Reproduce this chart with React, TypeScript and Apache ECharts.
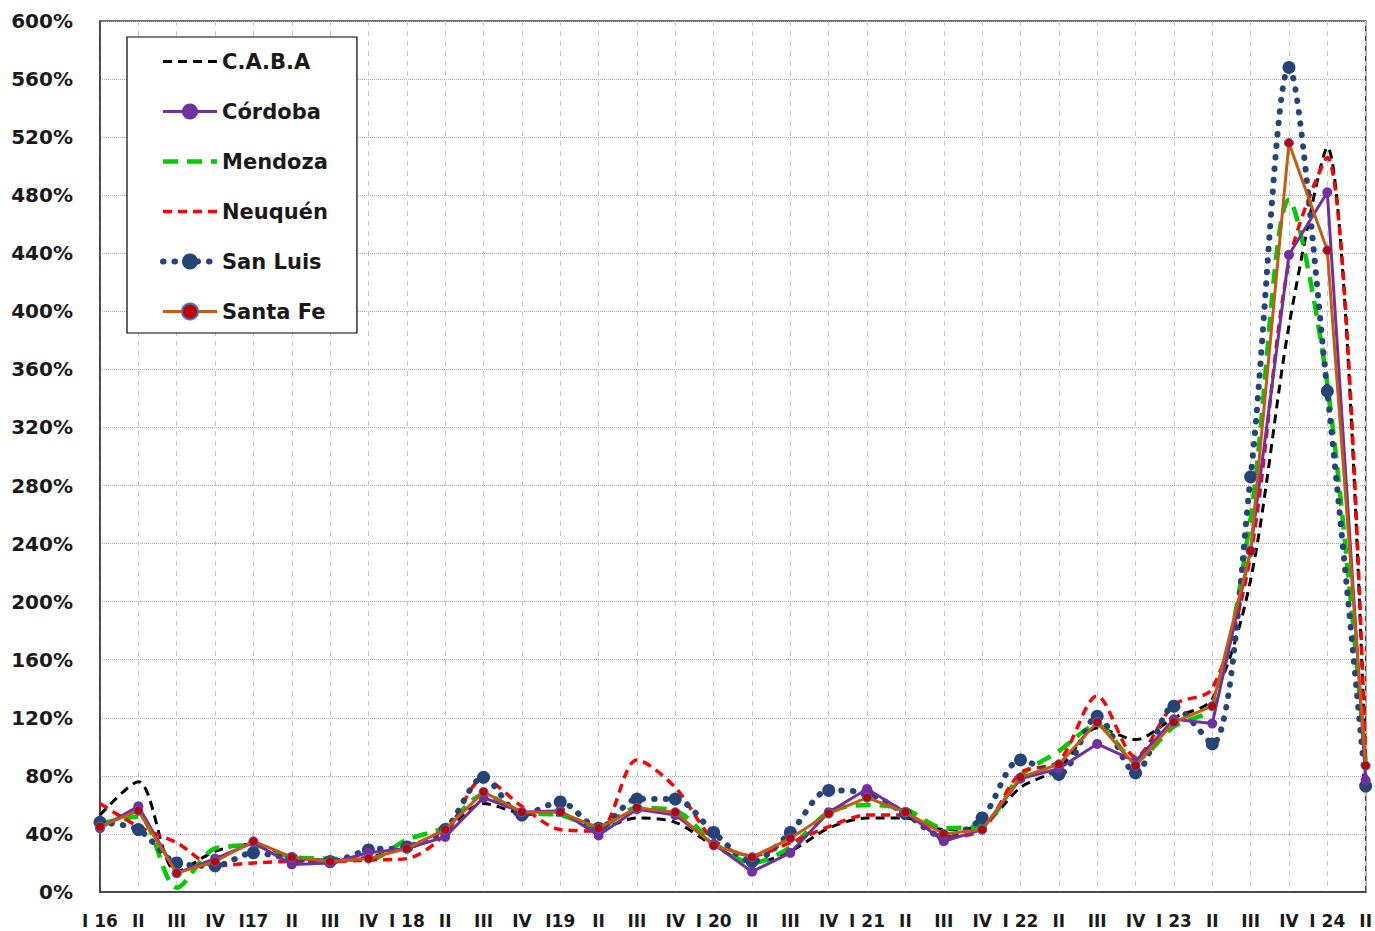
import React, { useEffect, useRef } from "react";
import * as echarts from "echarts";

const categories = [
  "I 16", "II", "III", "IV", "I17", "II", "III", "IV", "I 18", "II", "III", "IV",
  "I19", "II", "III", "IV", "I 20", "II", "III", "IV", "I 21", "II", "III", "IV",
  "I 22", "II", "III", "IV", "I 23", "II", "III", "IV", "I 24", "II",
];

const caba = [53, 76, 14, 28, 33, 24, 22, 24, 31, 43, 61, 54, 53, 44, 51, 48, 32, 20, 28, 44, 51, 51, 43, 46, 72, 85, 113, 105, 120, 133, 215, 390, 513, 85];
const cordoba = [44, 59, 13, 23, 34, 19, 20, 27, 30, 38, 65, 55, 56, 39, 57, 53, 33, 14, 27, 55, 71, 55, 35, 43, 78, 85, 102, 90, 119, 116, 235, 439, 482, 77];
const mendoza = [47, 52, 3, 30, 32, 24, 23, 22, 36, 45, 67, 55, 53, 45, 58, 56, 34, 20, 31, 55, 60, 57, 44, 46, 80, 97, 115, 91, 114, 128, 258, 477, 350, 88];
const neuquen = [61, 45, 34, 18, 20, 21, 21, 22, 23, 40, 78, 59, 43, 42, 91, 72, 36, 25, 34, 45, 53, 53, 38, 43, 82, 90, 135, 93, 129, 140, 232, 434, 506, 88];
const sanLuis = [48, 43, 20, 18, 27, 23, 21, 29, 31, 43, 79, 53, 62, 44, 64, 64, 41, 21, 41, 70, 68, 54, 38, 51, 91, 81, 121, 82, 128, 102, 286, 568, 345, 73];
const santaFe = [45, 56, 13, 21, 35, 24, 21, 23, 30, 43, 69, 55, 55, 44, 58, 55, 32, 24, 37, 54, 65, 55, 40, 43, 79, 88, 117, 87, 117, 128, 235, 516, 442, 87];

const FONT = "DejaVu Sans";
const noMark = (name: string) => ({
  name,
  itemStyle: { color: "rgba(0,0,0,0)", borderColor: "rgba(0,0,0,0)", borderWidth: 0 },
});

export default function App() {
  const ref = useRef<HTMLDivElement>(null);
  useEffect(() => {
    if (!ref.current) return;
    const chart = echarts.init(ref.current, null, { renderer: "svg" });
    chart.setOption({
      animation: false,
      backgroundColor: "#ffffff",
      grid: {
        left: 100,
        right: 8,
        top: 21,
        bottom: 39,
        show: true,
        borderColor: "#3a3a3a",
        borderWidth: 1.5,
      },
      legend: {
        orient: "vertical",
        left: 127,
        top: 37,
        padding: [14, 29, 11, 33],
        itemGap: 29,
        itemWidth: 54,
        itemHeight: 20,
        backgroundColor: "#ffffff",
        borderColor: "#000000",
        borderWidth: 1.2,
        lineStyle: { width: "inherit" },
        textStyle: { fontFamily: FONT, fontWeight: "bold", fontSize: 21, color: "#1a1a1a" },
        data: [
          noMark("C.A.B.A"),
          "Córdoba",
          noMark("Mendoza"),
          noMark("Neuquén"),
          "San Luis",
          "Santa Fe",
        ],
      },
      xAxis: {
        type: "category",
        data: categories,
        boundaryGap: false,
        axisLine: { show: true, lineStyle: { color: "#3a3a3a", width: 1.5 } },
        axisTick: { show: false },
        axisLabel: {
          interval: 0,
          margin: 20,
          fontFamily: FONT,
          fontWeight: "bold",
          fontSize: 17,
          color: "#1a1a1a",
        },
        splitLine: { show: true, lineStyle: { color: "#c4c4c4", type: [5, 5], width: 1 } },
      },
      yAxis: {
        type: "value",
        min: 0,
        max: 600,
        interval: 40,
        axisLine: { show: true, lineStyle: { color: "#3a3a3a", width: 1.5 } },
        axisTick: { show: false },
        axisLabel: {
          formatter: "{value}%",
          margin: 27,
          fontFamily: FONT,
          fontWeight: "bold",
          fontSize: 20,
          color: "#1a1a1a",
        },
        splitLine: { show: true, lineStyle: { color: "#a8a8a8", type: [1, 1], width: 1 } },
      },
      series: [
        {
          name: "C.A.B.A",
          type: "line",
          data: caba,
          smooth: 0.3,
          symbol: "none",
          itemStyle: { color: "#000000" },
          lineStyle: { color: "#000000", width: 3, type: [9, 6] },
          z: 2,
        },
        {
          name: "Córdoba",
          type: "line",
          data: cordoba,
          symbol: "circle",
          symbolSize: 10,
          itemStyle: { color: "#7030A0" },
          lineStyle: { color: "#7030A0", width: 3 },
          z: 3,
        },
        {
          name: "Mendoza",
          type: "line",
          data: mendoza,
          smooth: 0.3,
          symbol: "none",
          itemStyle: { color: "#00CC00" },
          lineStyle: { color: "#00CC00", width: 4.5, type: [15, 9] },
          z: 2,
        },
        {
          name: "Neuquén",
          type: "line",
          data: neuquen,
          smooth: 0.3,
          symbol: "none",
          itemStyle: { color: "#FF0000" },
          lineStyle: { color: "#FF0000", width: 3.5, type: [9, 6] },
          z: 2,
        },
        {
          name: "San Luis",
          type: "line",
          data: sanLuis,
          smooth: 0.3,
          symbol: "circle",
          symbolSize: 13,
          itemStyle: { color: "#254579" },
          lineStyle: { color: "#254579", width: 6, type: [0.5, 11], cap: "round" },
          z: 2,
        },
        {
          name: "Santa Fe",
          type: "line",
          data: santaFe,
          symbol: "circle",
          symbolSize: 9,
          itemStyle: { color: "#C00000", borderColor: "#4472C4", borderWidth: 1 },
          lineStyle: { color: "#C55A11", width: 3 },
          z: 4,
        },
      ],
    });
    return () => chart.dispose();
  }, []);
  return (
    <div
      ref={ref}
      style={{ position: "absolute", left: 0, top: 0, width: 1375, height: 931 }}
    />
  );
}
